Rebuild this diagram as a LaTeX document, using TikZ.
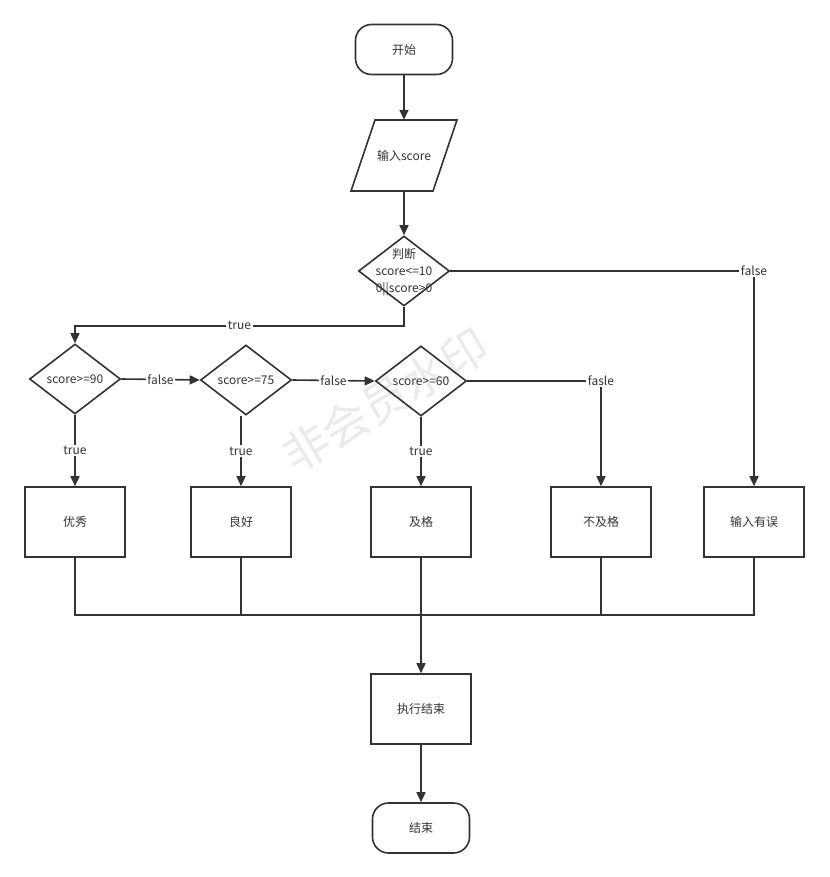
\documentclass[tikz,border=0pt]{standalone}
\usepackage{fontspec}
\setmainfont{Noto Sans CJK SC}
\usetikzlibrary{shapes.geometric,arrows.meta}
\definecolor{lc}{HTML}{333333}
\begin{document}
\begin{tikzpicture}[x=1pt,y=-1pt,
  base/.style={draw=lc, line width=1.6pt, text=lc, font=\fontsize{12}{17}\selectfont, inner sep=0pt},
  box/.style={base, rectangle, minimum width=100pt, minimum height=70pt},
  term/.style={base, rectangle, rounded corners=16pt, minimum width=97pt, minimum height=50pt},
  dia/.style={base, diamond, minimum width=91pt, minimum height=70pt},
  txt/.style={text=lc, font=\fontsize{12}{17}\selectfont, inner sep=0pt},
  lab/.style={fill=white, text=lc, font=\fontsize{12}{14}\selectfont, inner sep=1.5pt},
  conn/.style={draw=lc, line width=1.6pt},
  arr/.style={conn, -{Triangle[length=10pt,width=9pt]}}]
\useasboundingbox (0,0) rectangle (829,877);
\fill[white] (0,0) rectangle (829,877);
% watermark
\node[rotate=31, text=black!8, font=\fontsize{46}{46}\selectfont, inner sep=0pt] (wm) at (385,400) {非会员水印};

% nodes
\node[term] (start) at (404,49.5) {开始};
\draw[base] (375,120) -- (457,120) -- (433,191) -- (351,191) -- cycle;
\node[txt, minimum width=80pt, minimum height=71pt] (in) at (404,155.5) {输入score};
\node[dia] (top) at (404,271) {};
\node[txt, align=center] (toptext) at (404,272) {判断\\score<=10\\0||score>0};
\node[dia] (d1) at (75,379) {};
\node[txt] (d1t) at (75,379) {score>=90};
\node[dia] (d2) at (246,380) {};
\node[txt] (d2t) at (246,380) {score>=75};
\node[dia] (d3) at (421,381) {};
\node[txt] (d3t) at (421,381) {score>=60};

\node[box] (b1) at (75,522) {优秀};
\node[box] (b2) at (241,522) {良好};
\node[box] (b3) at (421,522) {及格};
\node[box] (b4) at (601,522) {不及格};
\node[box] (b5) at (754,522) {输入有误};
\node[box] (ex) at (421,709) {执行结束};
\node[term] (fin) at (421,828) {结束};

\coordinate (jm) at (421,615);

% connectors
\draw[arr] (start.south) -- (in.north);
\draw[arr] (in.south) -- (top.north);
\draw[arr] (top.south) -- ++(0,19) -| node[lab, pos=0.25] {true} (d1.north);
\draw[arr] (top.east) -| node[lab, pos=0.5] {false} (b5.north);
\draw[arr] (d1.east) -- node[lab] {false} (d2.west);
\draw[arr] (d2.east) -- node[lab] {false} (d3.west);
\draw[arr] (d3.east) -| node[lab, pos=0.5] {fasle} (b4.north);
\draw[arr] (d1.south) -- node[lab] {true} (b1.north);
\draw[arr] (d2.south -| b2.north) -- node[lab] {true} (b2.north);
\draw[arr] (d3.south) -- node[lab] {true} (b3.north);

\draw[conn] (b1.south) |- (jm);
\draw[conn] (b2.south) |- (jm);
\draw[conn] (b4.south) |- (jm);
\draw[conn] (b5.south) |- (jm);
\draw[arr] (b3.south) -- (ex.north);
\draw[arr] (ex.south) -- (fin.north);
\end{tikzpicture}
\end{document}
